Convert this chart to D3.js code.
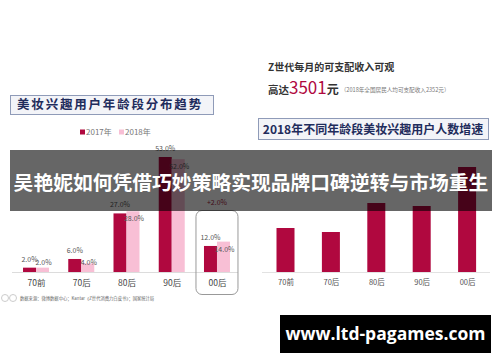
<!DOCTYPE html>
<html>
<head>
<meta charset="utf-8">
<script src="https://cdn.jsdelivr.net/npm/d3@7"></script>
<style>
  body { margin: 0; background: #fff; }
  svg { display: block; font-family: "Noto Sans CJK SC", "Noto Sans", sans-serif; }
</style>
</head>
<body>
<svg id="chart"></svg>
<script>
// left chart: share of beauty-interest users by age group
const ageGroups = ['70前', '70后', '80后', '90后', '00后'];
const seriesNames = ['2017年', '2018年'];
const share2017 = [2.0, 6.0, 27.0, 53.0, 12.0];
const share2018 = [2.0, 4.0, 28.0, 52.0, 14.0];
const highlightLabel = '+2.0%';

// right chart: 2018 growth of users per age group (no labels)
const growth2018 = [44, 40, 69, 66, 105];

const leftTitle = '美妆兴趣用户年龄段分布趋势';
const rightTitle = '2018年不同年龄段美妆兴趣用户人数增速';
const bannerText = '吴艳妮如何凭借巧妙策略实现品牌口碑逆转与市场重生';
const sourceText = '数据来源：微博数据中心；Kantar《Z世代消费力白皮书》；国家统计局';
const urlText = 'www.ltd-pagames.com';

const W = 500, H = 362;
const baseY = 272;
const c2017 = '#b0083f', c2018 = '#f8bfd5', navy = '#1f2c5c';

const svg = d3.select('#chart').attr('width', W).attr('height', H);

// ---------- left chart ----------
const left = svg.append('g');

left.append('rect')
  .attr('x', 10.5).attr('y', 95.5).attr('width', 203).attr('height', 19)
  .attr('fill', '#f3f4f8').attr('stroke', '#8f9bb8');
left.append('text')
  .attr('x', 110).attr('y', 109).attr('text-anchor', 'middle')
  .attr('font-size', 12.5).attr('font-weight', 'bold').attr('letter-spacing', 1.8)
  .attr('fill', navy).text(leftTitle);

// legend
const legend = left.selectAll('.legend')
  .data(seriesNames)
  .join('g')
  .attr('transform', (d, i) => `translate(${80 + i * 39}, 132)`);
legend.append('rect')
  .attr('x', 0).attr('y', -2.5).attr('width', 5).attr('height', 5)
  .attr('fill', (d, i) => i === 0 ? c2017 : c2018);
legend.append('text')
  .attr('x', 6).attr('y', 3).attr('font-size', 8).attr('fill', '#777')
  .text(d => d);

const xLeft = d3.scalePoint().domain(ageGroups).range([13.4, 239.6]).padding(0.5);
const yLeft = d3.scaleLinear().domain([0, 53]).range([baseY, 157]);
const barW = 13;

const leftData = ageGroups.map((g, i) => ({ group: g, a: share2017[i], b: share2018[i] }));

left.selectAll('.bar2017')
  .data(leftData)
  .join('rect')
  .attr('class', 'bar2017')
  .attr('x', d => xLeft(d.group) - barW)
  .attr('y', d => yLeft(d.a))
  .attr('width', barW)
  .attr('height', d => baseY - yLeft(d.a))
  .attr('fill', c2017);

left.selectAll('.bar2018')
  .data(leftData)
  .join('rect')
  .attr('class', 'bar2018')
  .attr('x', d => xLeft(d.group))
  .attr('y', d => yLeft(d.b))
  .attr('width', barW)
  .attr('height', d => baseY - yLeft(d.b))
  .attr('fill', c2018);

// value labels
left.selectAll('.lab2017')
  .data(leftData)
  .join('text')
  .attr('x', d => xLeft(d.group) - barW / 2)
  .attr('y', d => yLeft(d.a) - 6)
  .attr('text-anchor', 'middle').attr('font-size', 7).attr('fill', '#555')
  .text(d => d.a.toFixed(1) + '%');

left.selectAll('.lab2018')
  .data(leftData)
  .join('text')
  .attr('x', d => xLeft(d.group) + barW / 2 + 1)
  .attr('y', d => Math.min(yLeft(d.b) + 10, baseY - 7))
  .attr('text-anchor', 'middle').attr('font-size', 7).attr('fill', '#555')
  .text(d => d.b.toFixed(1) + '%');

// axis
const axisL = left.append('g')
  .attr('transform', `translate(0, ${baseY})`)
  .call(d3.axisBottom(xLeft).tickSize(0).tickPadding(8));
axisL.select('.domain').attr('stroke', '#dcdcdc').attr('d', 'M12,0.5H238');
axisL.selectAll('text').attr('font-size', 8.5).attr('fill', '#444')
  .attr('font-family', '"Noto Sans CJK SC", sans-serif');

// highlight box around 00后
left.append('rect')
  .attr('x', xLeft('00后') - 21).attr('y', 210.5).attr('width', 42).attr('height', 84)
  .attr('rx', 6).attr('fill', 'none').attr('stroke', '#999').attr('stroke-width', 1);
left.append('text')
  .attr('x', xLeft('00后')).attr('y', 205).attr('text-anchor', 'middle')
  .attr('font-size', 7).attr('fill', '#a3203c')
  .text(highlightLabel);

// source line
left.append('circle').attr('cx', 5).attr('cy', 298).attr('r', 3.5)
  .attr('fill', 'none').attr('stroke', '#ccc');
left.append('circle').attr('cx', 13).attr('cy', 298).attr('r', 3.5)
  .attr('fill', 'none').attr('stroke', '#ccc');
left.append('text')
  .attr('x', 20).attr('y', 300).attr('font-size', 4.3).attr('fill', '#666')
  .text(sourceText);

// ---------- right chart ----------
const right = svg.append('g');

right.append('text')
  .attr('x', 268).attr('y', 71).attr('font-size', 10).attr('font-weight', 'bold')
  .attr('fill', '#333').text('Z世代每月的可支配收入可观');

const income = right.append('text').attr('x', 268).attr('y', 94).attr('fill', '#333');
income.append('tspan').attr('font-size', 10.5).attr('font-weight', 'bold').text('高达');
income.append('tspan').attr('font-size', 17).attr('fill', '#b0083f').text('3501');
income.append('tspan').attr('font-size', 12).attr('font-weight', 'bold').text('元');
income.append('tspan').attr('font-size', 5.6).attr('fill', '#777').attr('dx', 2).attr('dy', -2)
  .text('（2018年全国居民人均可支配收入2352元）');

right.append('rect')
  .attr('x', 258.5).attr('y', 118.5).attr('width', 230).attr('height', 21)
  .attr('fill', '#f3f4f8').attr('stroke', '#8f9bb8');
right.append('text')
  .attr('x', 373).attr('y', 133.5).attr('text-anchor', 'middle')
  .attr('font-size', 12).attr('font-weight', 'bold').attr('fill', navy)
  .text(rightTitle);

const xRight = d3.scalePoint().domain(ageGroups).range([262.8, 489.8]).padding(0.5);
const yRight = d3.scaleLinear().domain([0, 105]).range([baseY, 167]);

right.selectAll('.barR')
  .data(ageGroups.map((g, i) => ({ group: g, v: growth2018[i] })))
  .join('rect')
  .attr('x', d => xRight(d.group) - 9)
  .attr('y', d => yRight(d.v))
  .attr('width', 18)
  .attr('height', d => baseY - yRight(d.v))
  .attr('fill', c2017);

const axisR = right.append('g')
  .attr('transform', `translate(0, ${baseY})`)
  .call(d3.axisBottom(xRight).tickSize(0).tickPadding(8));
axisR.select('.domain').attr('stroke', '#e2e2e2').attr('d', 'M262,0.5H490');
axisR.selectAll('text').attr('font-size', 7.5).attr('fill', '#555')
  .attr('font-family', '"Noto Sans CJK SC", sans-serif');

// ---------- overlays ----------
svg.append('rect')
  .attr('x', 10).attr('y', 150).attr('width', 482).attr('height', 61)
  .attr('fill', '#000').attr('opacity', 0.6);
svg.append('text')
  .attr('x', 251).attr('y', 190).attr('text-anchor', 'middle')
  .attr('font-size', 19.8).attr('font-weight', 'bold').attr('fill', '#fff')
  .text(bannerText);

svg.append('rect')
  .attr('x', 280).attr('y', 315).attr('width', 211).attr('height', 38)
  .attr('fill', '#000');
svg.append('text')
  .attr('x', 385.5).attr('y', 340).attr('text-anchor', 'middle')
  .attr('font-size', 17.5).attr('font-weight', 'bold').attr('fill', '#fff')
  .attr('font-family', '"Open Sans", "DejaVu Sans", sans-serif')
  .text(urlText);
</script>
</body>
</html>
